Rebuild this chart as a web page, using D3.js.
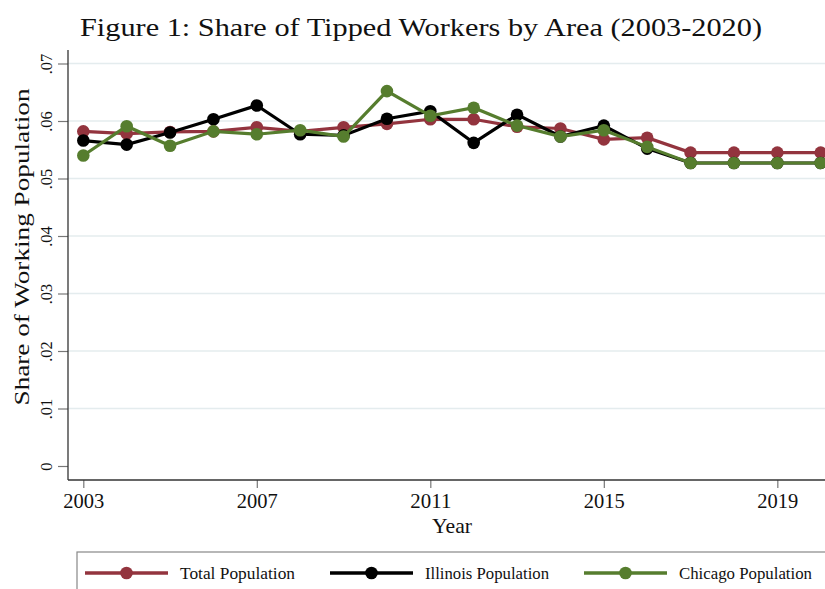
<!DOCTYPE html>
<html><head><meta charset="utf-8">
<script src="https://cdn.jsdelivr.net/npm/d3@7"></script>
<style>body{margin:0;background:#fff}svg{display:block}text{font-family:"Liberation Serif","DejaVu Serif",serif;fill:#111}</style>
</head><body><svg id="c" width="825" height="589"></svg>
<script>
const years = [2003,2004,2005,2006,2007,2008,2009,2010,2011,2012,2013,2014,2015,2016,2017,2018,2019,2020];
const totalPop = [0.0582,0.0578,0.0581,0.0582,0.0589,0.0582,0.0589,0.0595,0.0603,0.0603,0.0590,0.0587,0.0568,0.0571,0.0545,0.0545,0.0545,0.0545];
const illinoisPop = [0.0566,0.0559,0.0580,0.0603,0.0627,0.0577,0.0575,0.0604,0.0617,0.0562,0.0611,0.0573,0.0592,0.0552,0.0527,0.0527,0.0527,0.0527];
const chicagoPop = [0.0540,0.0591,0.0557,0.0582,0.0577,0.0584,0.0573,0.0652,0.0609,0.0623,0.0592,0.0573,0.0584,0.0555,0.0527,0.0527,0.0527,0.0527];
const seriesNames = ["Total Population","Illinois Population","Chicago Population"];
const xTicks = [2003,2007,2011,2015,2019];
const yTicks = [0,0.01,0.02,0.03,0.04,0.05,0.06,0.07];
const yTickLabels = ["0",".01",".02",".03",".04",".05",".06",".07"];
const titleText = "Figure 1: Share of Tipped Workers by Area (2003-2020)";
const xTitle = "Year", yTitle = "Share of Working Population";

const colors = ["#93343e","#000000","#567d2e"];
const svg = d3.select("#c");
const x = d3.scaleLinear().domain([2003,2020]).range([83.3,820.7]);
const y = d3.scaleLinear().domain([0,0.07]).range([466,63.5]);
const axL = 68, axB = 480;

// title
svg.append("text").attr("x",80).attr("y",36).attr("font-size",25)
  .attr("textLength",682).attr("lengthAdjust","spacingAndGlyphs").text(titleText);

// gridlines
svg.append("g").selectAll("line").data(yTicks.filter(d=>d>0)).join("line")
  .attr("x1",axL).attr("x2",825).attr("y1",d=>y(d)).attr("y2",d=>y(d))
  .attr("stroke","#e4ecee").attr("stroke-width",1.5);

// y axis
const ya = svg.append("g").attr("transform",`translate(${axL},0)`)
  .call(d3.axisLeft(y).tickValues(yTicks).tickFormat((d,i)=>yTickLabels[i]).tickSize(10).tickPadding(0));
ya.select(".domain").remove();
ya.selectAll(".tick line").attr("stroke","#777").attr("stroke-width",1.2);
ya.selectAll(".tick text").attr("font-size",16.5).attr("fill","#222")
  .attr("text-anchor","middle").attr("transform","translate(-22,0) rotate(-90)").attr("dy","0.35em").attr("x",0);
svg.append("line").attr("x1",axL).attr("x2",axL).attr("y1",50).attr("y2",axB).attr("stroke","#333").attr("stroke-width",1.3);

// x axis
const xa = svg.append("g").attr("transform",`translate(0,${axB})`)
  .call(d3.axisBottom(x).tickValues(xTicks).tickFormat(d3.format("d")).tickSize(8).tickPadding(6));
xa.select(".domain").remove();
xa.selectAll(".tick line").attr("stroke","#777").attr("stroke-width",1.2);
xa.selectAll(".tick text").attr("font-size",20).attr("fill","#111")
  .attr("textLength",41).attr("lengthAdjust","spacingAndGlyphs");
svg.append("line").attr("x1",axL).attr("x2",825).attr("y1",axB).attr("y2",axB).attr("stroke","#333").attr("stroke-width",1.3);

// axis titles
svg.append("text").attr("x",452).attr("y",533).attr("text-anchor","middle").attr("font-size",21)
  .attr("textLength",40).attr("lengthAdjust","spacingAndGlyphs").text(xTitle);
svg.append("text").attr("transform","translate(29,247) rotate(-90)").attr("text-anchor","middle").attr("font-size",22)
  .attr("textLength",317).attr("lengthAdjust","spacingAndGlyphs").text(yTitle);

// series
const allSeries = [totalPop, illinoisPop, chicagoPop];
const line = d3.line().x((d,i)=>x(years[i])).y(d=>y(d));
allSeries.forEach((vals,k)=>{
  const g = svg.append("g");
  g.append("path").datum(vals).attr("d",line).attr("fill","none").attr("stroke",colors[k]).attr("stroke-width",3.2);
  g.selectAll("circle").data(vals).join("circle").attr("cx",(d,i)=>x(years[i])).attr("cy",d=>y(d)).attr("r",6.3).attr("fill",colors[k]);
});

// legend
svg.append("rect").attr("x",77).attr("y",552).attr("width",800).attr("height",60)
  .attr("fill","#fff").attr("stroke","#888").attr("stroke-width",1.2);
const legX = [85,330,584];
const legW = [115,124,133];
seriesNames.forEach((n,k)=>{
  const lg = svg.append("g");
  lg.append("line").attr("x1",legX[k]).attr("x2",legX[k]+83).attr("y1",573).attr("y2",573).attr("stroke",colors[k]).attr("stroke-width",3.5);
  lg.append("circle").attr("cx",legX[k]+41.5).attr("cy",573).attr("r",6.3).attr("fill",colors[k]);
  lg.append("text").attr("x",legX[k]+95).attr("y",578.5).attr("font-size",16.5)
    .attr("textLength",legW[k]).attr("lengthAdjust","spacingAndGlyphs").text(n);
});
</script></body></html>
